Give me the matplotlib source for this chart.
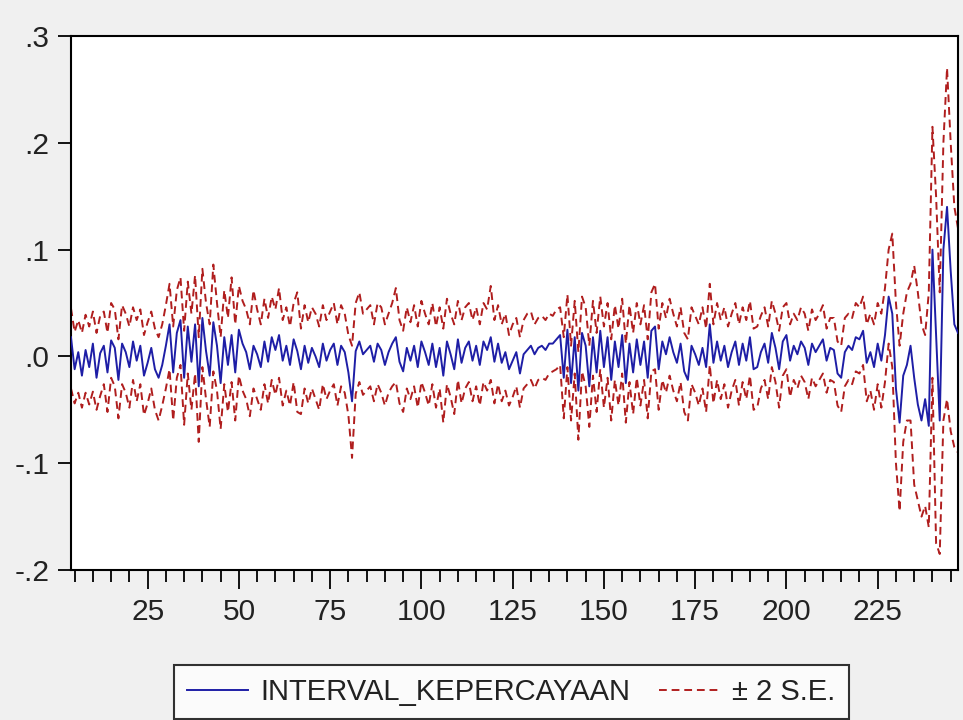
import numpy as np
import matplotlib
matplotlib.use("Agg")
import matplotlib.pyplot as plt
from matplotlib.ticker import MultipleLocator, FixedLocator

plt.rcParams['font.family'] = ['Liberation Sans', 'DejaVu Sans']

# observation index
obs = np.arange(4, 248)

# recursive residual series
interval = [
    0.018, -0.012, 0.004, -0.018, 0.006, -0.010, 0.012, -0.020, 0.003, 0.010,
    -0.015, 0.015, 0.008, -0.022, 0.012, 0.004, -0.010, 0.014, -0.004, 0.010,
    -0.018, -0.006, 0.008, -0.012, -0.020, -0.008, 0.010, 0.030, -0.015, 0.022,
    0.034, -0.020, 0.028, -0.005, 0.030, -0.028, 0.036, 0.005, -0.018, 0.032,
    0.010, -0.025, 0.018, -0.008, 0.020, -0.015, 0.025, 0.012, 0.004, -0.012,
    0.010, 0.002, -0.010, 0.014, -0.005, 0.018, 0.006, 0.020, -0.004, 0.010,
    -0.008, 0.016, 0.005, -0.012, 0.010, -0.006, 0.008, 0.000, -0.010, 0.012,
    -0.004, 0.006, 0.012, -0.008, 0.010, 0.004, -0.015, -0.042, 0.005, 0.014,
    0.002, 0.006, 0.010, -0.005, 0.012, 0.006, -0.008, 0.004, 0.012, 0.018,
    -0.005, -0.014, 0.008, -0.004, 0.010, -0.010, 0.014, 0.004, -0.008, 0.012,
    -0.010, 0.008, -0.018, 0.014, 0.002, -0.012, 0.016, -0.006, 0.008, 0.014,
    -0.004, 0.010, -0.008, 0.014, 0.006, 0.018, -0.005, 0.012, -0.006, 0.004,
    -0.012, -0.004, 0.004, -0.016, 0.002, 0.006, 0.010, 0.002, 0.008, 0.010,
    0.006, 0.012, 0.012, 0.016, 0.020, -0.020, 0.025, -0.025, 0.018, -0.032,
    0.022, 0.010, -0.028, 0.018, -0.015, 0.024, -0.010, 0.018, -0.022, 0.014,
    -0.010, 0.020, -0.025, 0.012, -0.015, 0.016, -0.008, 0.014, -0.020, 0.024,
    0.028, -0.012, 0.014, 0.002, 0.018, 0.004, -0.006, 0.012, -0.014, -0.022,
    0.010, 0.002, -0.008, 0.008, -0.010, 0.030, -0.006, 0.014, -0.004, 0.010,
    -0.010, 0.004, 0.014, -0.008, 0.012, -0.004, 0.018, -0.012, -0.010, 0.004,
    0.012, -0.006, 0.022, 0.008, -0.012, 0.014, 0.020, -0.004, 0.010, 0.002,
    0.014, 0.008, -0.008, 0.012, 0.004, 0.010, 0.016, -0.004, 0.008, 0.006,
    -0.016, -0.020, 0.004, 0.010, 0.006, 0.018, 0.016, 0.024, -0.006, 0.004,
    -0.010, 0.012, -0.004, 0.020, 0.056, 0.040, -0.030, -0.062, -0.018, -0.008,
    0.010, -0.020, -0.045, -0.060, -0.040, -0.065, 0.100, 0.020, -0.060, 0.100,
    0.140, 0.080, 0.030, 0.022,
]

# upper +2 S.E. band
upper = [
    0.045, 0.023, 0.034, 0.022, 0.039, 0.028, 0.042, 0.022, 0.038, 0.042,
    0.022, 0.050, 0.044, 0.016, 0.048, 0.040, 0.028, 0.046, 0.034, 0.044,
    0.020, 0.032, 0.042, 0.026, 0.018, 0.030, 0.048, 0.068, 0.028, 0.062,
    0.074, 0.024, 0.070, 0.040, 0.076, 0.018, 0.082, 0.050, 0.030, 0.086,
    0.050, 0.018, 0.062, 0.036, 0.074, 0.030, 0.066, 0.052, 0.044, 0.030,
    0.062, 0.044, 0.030, 0.054, 0.036, 0.056, 0.044, 0.064, 0.034, 0.046,
    0.028, 0.050, 0.060, 0.026, 0.048, 0.032, 0.046, 0.040, 0.028, 0.048,
    0.034, 0.042, 0.050, 0.030, 0.048, 0.040, 0.020, 0.010, 0.050, 0.060,
    0.040, 0.044, 0.048, 0.030, 0.050, 0.046, 0.030, 0.040, 0.050, 0.064,
    0.034, 0.024, 0.046, 0.032, 0.048, 0.028, 0.052, 0.040, 0.030, 0.050,
    0.028, 0.046, 0.026, 0.054, 0.040, 0.030, 0.052, 0.034, 0.046, 0.050,
    0.034, 0.046, 0.030, 0.050, 0.044, 0.066, 0.034, 0.048, 0.030, 0.040,
    0.020, 0.030, 0.036, 0.018, 0.034, 0.040, 0.042, 0.030, 0.036, 0.038,
    0.034, 0.040, 0.038, 0.044, 0.046, 0.018, 0.058, 0.010, 0.052, 0.004,
    0.056, 0.046, 0.010, 0.052, 0.022, 0.056, 0.028, 0.050, 0.016, 0.048,
    0.026, 0.054, 0.012, 0.048, 0.022, 0.050, 0.030, 0.048, 0.016, 0.060,
    0.068, 0.026, 0.050, 0.036, 0.054, 0.040, 0.028, 0.046, 0.022, 0.016,
    0.046, 0.038, 0.030, 0.046, 0.026, 0.068, 0.030, 0.050, 0.034, 0.046,
    0.028, 0.040, 0.050, 0.030, 0.046, 0.034, 0.052, 0.026, 0.028, 0.038,
    0.046, 0.028, 0.052, 0.040, 0.024, 0.046, 0.050, 0.030, 0.040, 0.034,
    0.046, 0.040, 0.024, 0.044, 0.034, 0.040, 0.048, 0.026, 0.036, 0.036,
    0.014, 0.010, 0.036, 0.040, 0.036, 0.050, 0.046, 0.056, 0.030, 0.040,
    0.030, 0.050, 0.040, 0.064, 0.100, 0.115, 0.050, 0.010, 0.040, 0.060,
    0.068, 0.085, 0.060, 0.030, 0.020, 0.060, 0.215, 0.150, 0.060, 0.200,
    0.270, 0.200, 0.140, 0.120,
]

# lower -2 S.E. band
lower = [
    -0.030, -0.044, -0.034, -0.048, -0.034, -0.045, -0.033, -0.050, -0.037, -0.026,
    -0.052, -0.020, -0.028, -0.058, -0.026, -0.034, -0.048, -0.022, -0.042, -0.026,
    -0.055, -0.044, -0.030, -0.050, -0.060, -0.046, -0.030, -0.012, -0.060, -0.020,
    -0.008, -0.064, -0.016, -0.050, -0.016, -0.080, -0.010, -0.040, -0.066, -0.014,
    -0.032, -0.068, -0.026, -0.052, -0.024, -0.060, -0.018, -0.032, -0.040, -0.056,
    -0.030, -0.040, -0.050, -0.026, -0.044, -0.022, -0.036, -0.020, -0.046, -0.032,
    -0.046, -0.024, -0.052, -0.054, -0.030, -0.044, -0.030, -0.040, -0.050, -0.026,
    -0.040, -0.032, -0.026, -0.046, -0.028, -0.034, -0.055, -0.095, -0.035, -0.024,
    -0.036, -0.032, -0.028, -0.042, -0.026, -0.034, -0.046, -0.034, -0.028, -0.024,
    -0.044, -0.052, -0.030, -0.040, -0.028, -0.048, -0.024, -0.034, -0.046, -0.026,
    -0.048, -0.030, -0.062, -0.026, -0.038, -0.054, -0.022, -0.044, -0.030, -0.024,
    -0.042, -0.028, -0.046, -0.024, -0.032, -0.022, -0.044, -0.026, -0.042, -0.032,
    -0.046, -0.038, -0.028, -0.048, -0.030, -0.026, -0.022, -0.030, -0.022, -0.020,
    -0.022, -0.016, -0.014, -0.012, -0.008, -0.058, -0.010, -0.060, -0.016, -0.078,
    -0.014, -0.028, -0.066, -0.018, -0.052, -0.012, -0.048, -0.020, -0.060, -0.022,
    -0.046, -0.016, -0.062, -0.024, -0.054, -0.020, -0.046, -0.022, -0.058, -0.014,
    -0.012, -0.050, -0.022, -0.034, -0.018, -0.032, -0.042, -0.024, -0.052, -0.060,
    -0.026, -0.034, -0.046, -0.030, -0.052, -0.008, -0.044, -0.022, -0.040, -0.026,
    -0.048, -0.032, -0.022, -0.046, -0.024, -0.040, -0.018, -0.050, -0.048, -0.030,
    -0.022, -0.040, -0.010, -0.024, -0.048, -0.018, -0.012, -0.038, -0.022, -0.030,
    -0.018, -0.024, -0.040, -0.020, -0.028, -0.022, -0.016, -0.034, -0.022, -0.024,
    -0.046, -0.052, -0.028, -0.022, -0.026, -0.014, -0.016, -0.008, -0.042, -0.032,
    -0.050, -0.026, -0.048, -0.024, 0.012, -0.010, -0.100, -0.145, -0.080, -0.060,
    -0.060, -0.120, -0.135, -0.150, -0.140, -0.160, -0.020, -0.175, -0.185, -0.060,
    -0.040, -0.070, -0.085, -0.090,
]

y_ticks = [-0.2, -0.1, 0.0, 0.1, 0.2, 0.3]
y_labels = ["-.2", "-.1", ".0", ".1", ".2", ".3"]
x_ticks = [25, 50, 75, 100, 125, 150, 175, 200, 225]

BLUE = "#1e1ea6"
RED = "#b01e1e"
DASH = (4, 2.5)

fig = plt.figure(figsize=(9.63, 7.2), dpi=100, facecolor="#f0f0f0")
ax = fig.add_axes([0.0737, 0.2083, 0.9211, 0.7417])
ax.set_facecolor("white")

ax.plot(obs, upper, color=RED, lw=1.4, dashes=DASH, zorder=2)
ax.plot(obs, lower, color=RED, lw=1.4, dashes=DASH, zorder=2)
ax.plot(obs, interval, color=BLUE, lw=1.4, zorder=3)

ax.set_xlim(obs[0], obs[-1])
ax.set_ylim(-0.2, 0.3)

ax.yaxis.set_major_locator(FixedLocator(y_ticks))
ax.set_yticklabels(y_labels)
ax.xaxis.set_major_locator(FixedLocator(x_ticks))
ax.xaxis.set_minor_locator(MultipleLocator(5))

for s in ax.spines.values():
    s.set_linewidth(1.5)
    s.set_color("black")

ax.tick_params(axis="y", which="major", direction="out", length=9.5, width=1.3,
               labelsize=21.5, pad=6, colors="black", labelcolor="#222222")
ax.tick_params(axis="x", which="major", direction="out", length=14, width=1.3,
               labelsize=21.5, pad=6.5, colors="black", labelcolor="#222222")
ax.tick_params(axis="x", which="minor", direction="out", length=8.5, width=1.3)

h_blue, = ax.plot([], [], color=BLUE, lw=1.4)
h_red, = ax.plot([], [], color=RED, lw=1.4, dashes=DASH)
leg = fig.legend([h_blue, h_red], ["INTERVAL_KEPERCAYAAN", "± 2 S.E."],
                 loc="center", bbox_to_anchor=(0.531, 0.039), ncol=2,
                 fontsize=21, frameon=True, fancybox=False, handlelength=2.1,
                 handletextpad=0.4, columnspacing=1.0, borderpad=0.45,
                 borderaxespad=0)
leg.get_frame().set_edgecolor("black")
leg.get_frame().set_linewidth(1.5)
leg.get_frame().set_facecolor("white")
for t in leg.get_texts():
    t.set_color("#222222")

fig.savefig("out.png", dpi=100, facecolor=fig.get_facecolor())
